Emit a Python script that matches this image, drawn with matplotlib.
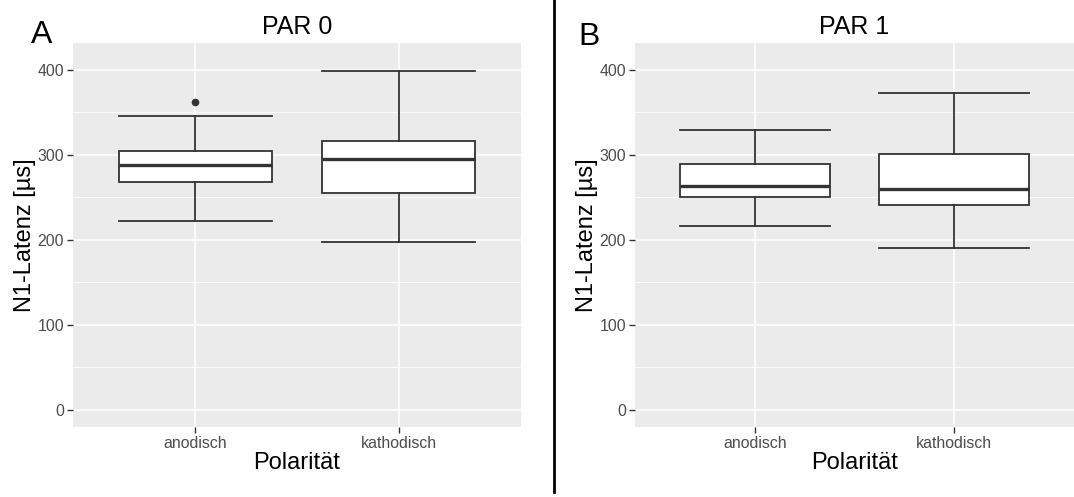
import matplotlib
matplotlib.use("Agg")
import matplotlib.pyplot as plt
from matplotlib.lines import Line2D

plt.rcParams['font.family'] = ['Liberation Sans', 'DejaVu Sans']

categories = ["anodisch", "kathodisch"]
panel_titles = ["PAR 0", "PAR 1"]
panel_tags = ["A", "B"]

# box statistics per panel: [anodisch, kathodisch]
par0_whislo = [222.5, 197.5]
par0_q1 = [268.0, 254.7]
par0_med = [288.0, 295.4]
par0_q3 = [305.0, 316.0]
par0_whishi = [346.0, 398.4]
par0_fliers = [[361.6], []]

par1_whislo = [216.3, 190.4]
par1_q1 = [250.0, 241.0]
par1_med = [263.7, 259.7]
par1_q3 = [289.5, 301.0]
par1_whishi = [329.0, 373.0]
par1_fliers = [[], []]

yticks = [0, 100, 200, 300, 400]
yminor = [50, 150, 250, 350]

panels = [
    (par0_whislo, par0_q1, par0_med, par0_q3, par0_whishi, par0_fliers),
    (par1_whislo, par1_q1, par1_med, par1_q3, par1_whishi, par1_fliers),
]

W, H = 1074, 497
fig = plt.figure(figsize=(W / 100, H / 100), dpi=100)

ax_px = [(73, 448), (635, 439)]
top_px, bot_px = 43.3, 426.7
for i, (lo, q1, med, q3, hi, fl) in enumerate(panels):
    x0, w = ax_px[i]
    ax = fig.add_axes([x0 / W, (H - bot_px) / H, w / W, (bot_px - top_px) / H])
    ax.set_facecolor("#EBEBEB")
    for s in ax.spines.values():
        s.set_visible(False)
    stats = []
    for j in range(len(categories)):
        stats.append(dict(whislo=lo[j], q1=q1[j], med=med[j], q3=q3[j],
                          whishi=hi[j], fliers=fl[j], label=categories[j]))
    ax.bxp(stats, positions=[1, 2], widths=0.75, patch_artist=True,
           boxprops=dict(facecolor="white", edgecolor="#333333", linewidth=1.3),
           medianprops=dict(color="#333333", linewidth=2.4, solid_capstyle="butt"),
           whiskerprops=dict(color="#333333", linewidth=1.3),
           capprops=dict(color="#333333", linewidth=1.3),
           capwidths=0.75,
           flierprops=dict(marker="o", markerfacecolor="#333333",
                           markeredgecolor="#333333", markersize=4.5),
           zorder=3)
    ax.set_xlim(0.4, 2.6)
    ax.set_ylim(-19.6, 431)
    ax.set_yticks(yticks)
    ax.set_yticks(yminor, minor=True)
    ax.set_xticks([1, 2])
    ax.set_xticklabels(categories)
    ax.grid(True, which="major", color="white", linewidth=1.1, zorder=0)
    ax.grid(True, which="minor", axis="y", color="white", linewidth=0.55, zorder=0)
    ax.set_axisbelow(True)
    ax.tick_params(axis="both", which="major", length=4, width=1.0, color="#333333",
                   labelsize=11.4, labelcolor="#4D4D4D", pad=2.5)
    ax.tick_params(axis="both", which="minor", length=0)
    ax.set_xlabel("Polarität", fontsize=17, color="black", labelpad=1)
    ax.set_ylabel("N1-Latenz [µs]", fontsize=17, color="black", labelpad=1)
    ax.set_title(panel_titles[i], fontsize=18, color="black", pad=7)

fig.text(31 / W, 1 - 35 / H, panel_tags[0], fontsize=23, ha="left", va="center")
fig.text(578 / W, 1 - 37 / H, panel_tags[1], fontsize=23, ha="left", va="center")

fig.add_artist(Line2D([553.5 / W, 553.5 / W], [1 - 0 / H, 1 - 492 / H],
                      color="black", linewidth=2.0, transform=fig.transFigure))

fig.savefig("out.png", dpi=100, facecolor="white")
